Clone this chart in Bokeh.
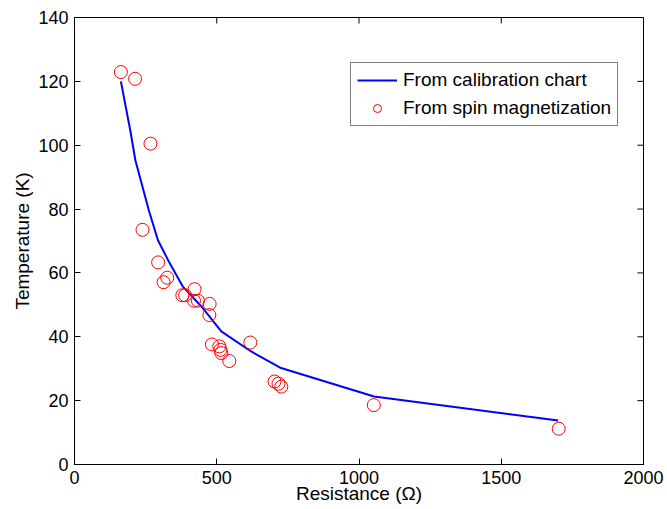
from bokeh.plotting import figure
from bokeh.models import Range1d, Legend, LegendItem, FixedTicker
from bokeh.embed import file_html
from bokeh.resources import INLINE

# Calibration chart curve (Resistance in ohm, Temperature in K)
cal_R = [163, 196, 214, 261, 293, 329, 381, 446, 516, 621, 726, 1053, 1700]
cal_T = [120, 104.7, 95.3, 79.7, 70.3, 64.0, 55.7, 49.5, 41.7, 35.4, 30.2, 21.3, 13.8]

# Spin magnetization points
spin_R = [163, 213, 267, 239, 294, 313, 326, 379, 389, 422, 420, 434, 475, 474,
          483, 509, 513, 516, 544, 618, 703, 717, 727, 1052, 1702]
spin_T = [122.9, 120.8, 100.5, 73.5, 63.3, 57.1, 58.5, 53.0, 53.0, 54.9, 51.3, 51.3, 50.3, 46.8,
          37.6, 37.0, 35.9, 34.9, 32.4, 38.2, 26.0, 25.3, 24.4, 18.6, 11.2]

x_ticks = [0, 500, 1000, 1500, 2000]
y_ticks = [0, 20, 40, 60, 80, 100, 120, 140]
x_label = "Resistance (Ω)"
y_label = "Temperature (K)"

FONT = "Liberation Sans"
TICK_FS = "18px"
LAB_FS = "19px"

p = figure(width=667, height=509, output_backend="svg", toolbar_location=None,
           x_range=Range1d(0, 2000), y_range=Range1d(0, 140),
           min_border_left=74, min_border_top=17, min_border_right=24, min_border_bottom=45,
           x_axis_label=x_label, y_axis_label=y_label)

p.grid.visible = False
p.outline_line_color = "black"
p.outline_line_width = 1
p.background_fill_color = "white"
p.border_fill_color = "white"

for ax in (p.xaxis[0], p.yaxis[0]):
    ax.major_tick_in = 6
    ax.major_tick_out = 0
    ax.minor_tick_line_color = None
    ax.axis_line_color = "black"
    ax.major_tick_line_color = "black"
    ax.major_label_text_font = FONT
    ax.major_label_text_font_size = TICK_FS
    ax.major_label_text_color = "black"
    ax.axis_label_text_font = FONT
    ax.axis_label_text_font_size = LAB_FS
    ax.axis_label_text_font_style = "normal"
    ax.axis_label_text_color = "black"

p.xaxis[0].ticker = FixedTicker(ticks=x_ticks)
p.yaxis[0].ticker = FixedTicker(ticks=y_ticks)
p.xaxis[0].major_label_standoff = 6
p.xaxis[0].axis_label_standoff = -4
p.yaxis[0].major_label_standoff = 6
p.yaxis[0].axis_label_standoff = 2

# mirrored inward ticks on top and right edges (half of each dash is clipped by the frame)
p.scatter(x_ticks, [140] * len(x_ticks), marker="dash", angle=1.5708, size=12,
          line_color="black", line_width=1)
p.scatter([2000] * len(y_ticks), y_ticks, marker="dash", size=12,
          line_color="black", line_width=1)

l = p.line(cal_R, cal_T, line_color="#0000ff", line_width=2)
c = p.scatter(spin_R, spin_T, marker="circle", size=13, fill_color=None,
              line_color="#ff0000", line_width=1)

legend = Legend(items=[LegendItem(label="From calibration chart", renderers=[l]),
                       LegendItem(label="From spin magnetization", renderers=[c])],
                location=(276, 338))
legend.border_line_color = "black"
legend.border_line_width = 1
legend.background_fill_color = "white"
legend.label_text_font = FONT
legend.label_text_font_size = LAB_FS
legend.label_text_color = "black"
legend.glyph_width = 40
legend.glyph_height = 20
legend.label_height = 20
legend.label_standoff = 6
legend.padding = 6
legend.spacing = 6
legend.margin = 0
p.add_layout(legend)

open("out.html", "w").write(file_html(p, INLINE))
